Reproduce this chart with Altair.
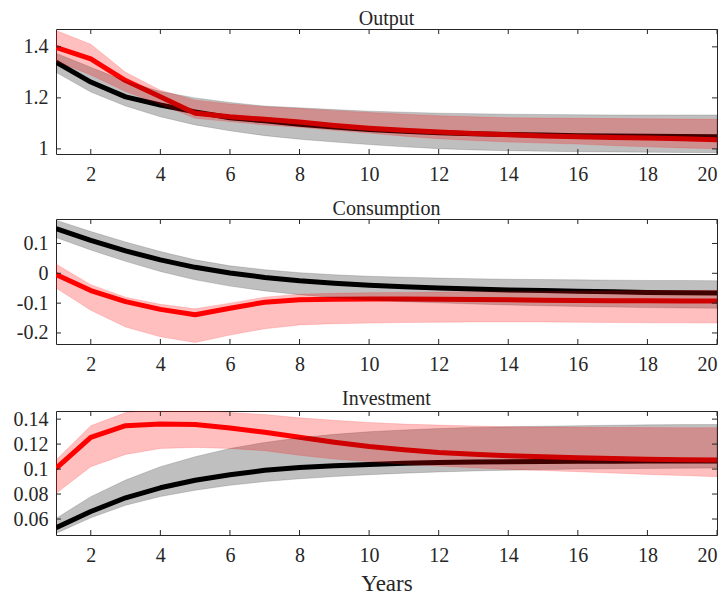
import altair as alt
import pandas as pd

years = list(range(1, 21))
x_ticks = [2, 4, 6, 8, 10, 12, 14, 16, 18, 20]

# ---- Output ----
out_black = [1.340, 1.262, 1.204, 1.172, 1.145, 1.122, 1.110, 1.097, 1.086, 1.076,
             1.069, 1.063, 1.059, 1.056, 1.054, 1.052, 1.051, 1.050, 1.049, 1.048]
out_black_hi = [1.375, 1.320, 1.265, 1.225, 1.200, 1.182, 1.168, 1.161, 1.154, 1.148,
                1.144, 1.140, 1.138, 1.136, 1.135, 1.134, 1.133, 1.133, 1.133, 1.133]
out_black_lo = [1.300, 1.223, 1.168, 1.126, 1.094, 1.071, 1.052, 1.038, 1.027, 1.017,
                1.008, 1.001, 0.996, 0.993, 0.991, 0.989, 0.988, 0.987, 0.986, 0.985]
out_red = [1.398, 1.353, 1.268, 1.204, 1.140, 1.126, 1.116, 1.105, 1.092, 1.081,
           1.073, 1.066, 1.060, 1.055, 1.051, 1.048, 1.045, 1.043, 1.040, 1.036]
out_red_hi = [1.464, 1.410, 1.300, 1.230, 1.191, 1.176, 1.165, 1.158, 1.150, 1.143,
              1.136, 1.130, 1.126, 1.122, 1.121, 1.120, 1.119, 1.118, 1.117, 1.116]
out_red_lo = [1.345, 1.290, 1.225, 1.175, 1.120, 1.107, 1.094, 1.085, 1.073, 1.062,
              1.050, 1.040, 1.033, 1.027, 1.023, 1.019, 1.013, 1.008, 1.004, 1.001]
out_yticks = [1, 1.2, 1.4]

# ---- Consumption ----
con_black = [0.150, 0.110, 0.075, 0.045, 0.020, 0.001, -0.014, -0.025, -0.033, -0.040,
             -0.045, -0.049, -0.053, -0.056, -0.058, -0.060, -0.062, -0.064, -0.065, -0.066]
con_black_hi = [0.178, 0.140, 0.105, 0.073, 0.045, 0.025, 0.012, 0.002, -0.005, -0.010,
                -0.013, -0.016, -0.018, -0.020, -0.021, -0.022, -0.023, -0.024, -0.024, -0.025]
con_black_lo = [0.120, 0.078, 0.040, 0.006, -0.022, -0.043, -0.059, -0.072, -0.082, -0.089,
                -0.095, -0.099, -0.103, -0.106, -0.109, -0.111, -0.113, -0.115, -0.116, -0.117]
con_red = [-0.004, -0.058, -0.095, -0.121, -0.139, -0.117, -0.097, -0.089, -0.087, -0.086,
           -0.086, -0.087, -0.088, -0.089, -0.090, -0.091, -0.092, -0.092, -0.093, -0.093]
con_red_hi = [0.031, -0.038, -0.080, -0.104, -0.119, -0.100, -0.080, -0.070, -0.067, -0.065,
              -0.064, -0.063, -0.062, -0.062, -0.061, -0.060, -0.059, -0.058, -0.058, -0.057]
con_red_lo = [-0.049, -0.124, -0.180, -0.213, -0.232, -0.207, -0.186, -0.173, -0.169, -0.167,
              -0.165, -0.164, -0.163, -0.163, -0.163, -0.164, -0.165, -0.166, -0.166, -0.167]
con_yticks = [-0.2, -0.1, 0, 0.1]

# ---- Investment ----
inv_black = [0.053, 0.066, 0.077, 0.085, 0.091, 0.0955, 0.099, 0.1013, 0.1027, 0.1037,
             0.1046, 0.1052, 0.1056, 0.1059, 0.1061, 0.1062, 0.1063, 0.1064, 0.1064, 0.1065]
inv_black_hi = [0.0605, 0.0779, 0.0912, 0.1019, 0.1099, 0.1165, 0.1213, 0.1251, 0.1278, 0.1299,
                0.1313, 0.1325, 0.1333, 0.1339, 0.1343, 0.1347, 0.1351, 0.1354, 0.1356, 0.1357]
inv_black_lo = [0.0485, 0.0610, 0.0710, 0.0780, 0.0830, 0.0870, 0.0900, 0.0922, 0.0940, 0.0955,
                0.0967, 0.0977, 0.0985, 0.0991, 0.0996, 0.1000, 0.1003, 0.1005, 0.1007, 0.1008]
inv_red = [0.1005, 0.1253, 0.1347, 0.1360, 0.1357, 0.1328, 0.1295, 0.1255, 0.1215, 0.1180,
           0.1155, 0.1133, 0.1118, 0.1107, 0.1098, 0.1091, 0.1084, 0.1078, 0.1075, 0.1072]
inv_red_hi = [0.1072, 0.1347, 0.1453, 0.1480, 0.1475, 0.1453, 0.1437, 0.1410, 0.1390, 0.1373,
              0.1360, 0.1352, 0.1345, 0.1339, 0.1336, 0.1334, 0.1333, 0.1332, 0.1331, 0.1331]
inv_red_lo = [0.0805, 0.1019, 0.1117, 0.1165, 0.1173, 0.1165, 0.1147, 0.1110, 0.1080, 0.1060,
              0.1040, 0.1024, 0.1010, 0.0997, 0.0988, 0.0979, 0.0968, 0.0957, 0.0948, 0.0939]
inv_yticks = [0.06, 0.08, 0.1, 0.12, 0.14]

FONT = "Liberation Serif"
TXT = "#262626"
W = 661


def panel(title, black, black_lo, black_hi, red, red_lo, red_hi, domain, yticks, h, xtitle=None):
    df = pd.DataFrame({"year": years, "black": black, "black_lo": black_lo, "black_hi": black_hi,
                       "red": red, "red_lo": red_lo, "red_hi": red_hi})
    xs = alt.Scale(domain=[1, 20], nice=False, zero=False)
    ys = alt.Scale(domain=domain, nice=False, zero=False)
    base = alt.Chart(df)
    xaxis = alt.Axis(values=x_ticks, title=xtitle, titleFont=FONT, titleFontSize=23,
                     titleFontWeight="normal", titleColor=TXT, titlePadding=7,
                     labelOverlap=False, labelFont=FONT, labelFontSize=20, labelColor=TXT,
                     labelPadding=10, ticks=False, domain=False, grid=False)
    yaxis = alt.Axis(values=yticks, labelExpr="'' + datum.value", title=None,
                     labelOverlap=False, labelFont=FONT, labelFontSize=20, labelColor=TXT,
                     labelPadding=8, ticks=False, domain=False, grid=False)

    def X(f):
        return alt.X(f, scale=xs, axis=xaxis)

    def Y(f):
        return alt.Y(f, scale=ys, axis=yaxis)

    black_line = base.mark_line(color="black", strokeWidth=5, strokeJoin="round", clip=True).encode(
        x=X("year:Q"), y=Y("black:Q"))
    red_line = base.mark_line(color="#ff0000", strokeWidth=5, strokeJoin="round", clip=True).encode(
        x=X("year:Q"), y=Y("red:Q"))
    gray_band = base.mark_area(color="black", fillOpacity=0.25, stroke="black", strokeOpacity=0.15,
                               strokeWidth=1, clip=True).encode(
        x=X("year:Q"), y=Y("black_lo:Q"), y2="black_hi:Q")
    red_band = base.mark_area(color="#ff0000", fillOpacity=0.25, stroke="#ff0000", strokeOpacity=0.15,
                              strokeWidth=1, clip=True).encode(
        x=X("year:Q"), y=Y("red_lo:Q"), y2="red_hi:Q")
    xt = alt.Chart(pd.DataFrame({"t": x_ticks}))
    yt = alt.Chart(pd.DataFrame({"t": yticks}))
    tick_col = "#262626"
    xb = xt.mark_rule(color=tick_col, strokeWidth=1).encode(
        x=X("t:Q"), y=alt.value(h), y2=alt.value(h - 5))
    xtp = xt.mark_rule(color=tick_col, strokeWidth=1).encode(
        x=X("t:Q"), y=alt.value(0), y2=alt.value(5))
    yl = yt.mark_rule(color=tick_col, strokeWidth=1).encode(
        y=Y("t:Q"), x=alt.value(0), x2=alt.value(5))
    yr = yt.mark_rule(color=tick_col, strokeWidth=1).encode(
        y=Y("t:Q"), x=alt.value(W), x2=alt.value(W - 5))
    return alt.layer(black_line, red_line, gray_band, red_band, xb, xtp, yl, yr).properties(
        width=W, height=h,
        title=alt.TitleParams(title, font=FONT, fontSize=20, fontWeight="normal", color=TXT, offset=0))


p1 = panel("Output", out_black, out_black_lo, out_black_hi, out_red, out_red_lo, out_red_hi,
           [0.98, 1.47], out_yticks, 125)
p2 = panel("Consumption", con_black, con_black_lo, con_black_hi, con_red, con_red_lo, con_red_hi,
           [-0.237, 0.182], con_yticks, 125)
p3 = panel("Investment", inv_black, inv_black_lo, inv_black_hi, inv_red, inv_red_lo, inv_red_hi,
           [0.0472, 0.1465], inv_yticks, 124, xtitle="Years")

chart = alt.vconcat(p1, p2, p3, spacing=13).properties(
    padding={"left": 4, "top": 0, "right": 0, "bottom": 0}
).configure_view(stroke="#262626", strokeWidth=1).configure_axis(
    grid=False, ticks=False, domain=False, labelOverlap=False
)

chart.save("out.html", embed_options={"renderer": "svg", "actions": False})
